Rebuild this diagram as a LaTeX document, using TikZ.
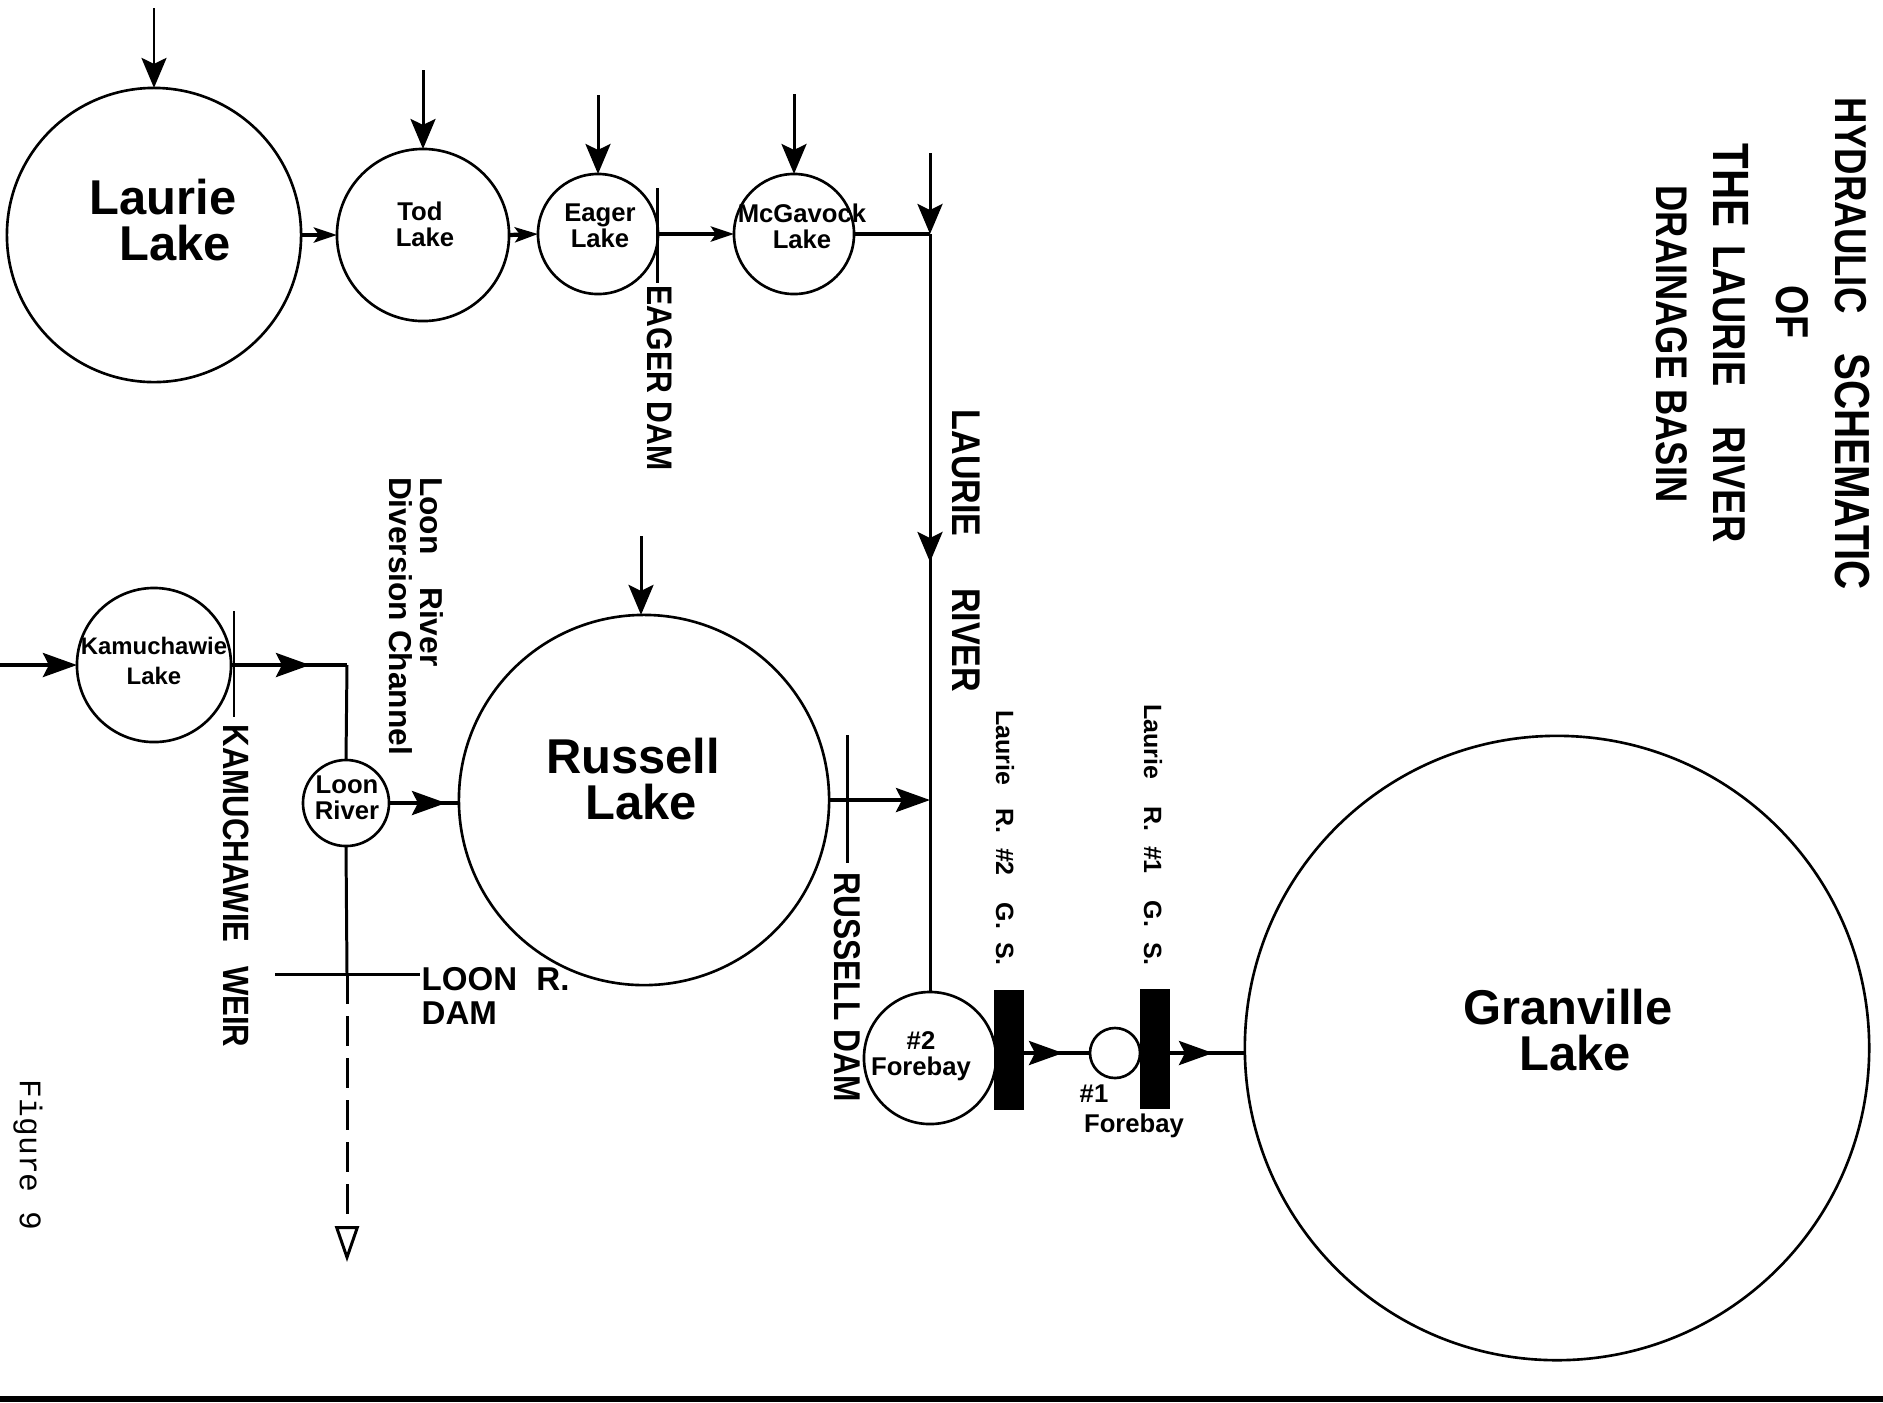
\documentclass[tikz,border=0pt]{standalone}
\usepackage{fontspec}
\setmainfont{Liberation Sans}
\newfontfamily\damfont[FakeStretch=.85]{Liberation Sans}
\newfontfamily\headfont[FakeStretch=.82]{Liberation Sans}
\newfontfamily\figfont{Liberation Mono}
\usetikzlibrary{arrows.meta}
\definecolor{lineColor}{RGB}{0,0,0}

\begin{document}
\begin{tikzpicture}[
  x=0.01cm, y=-0.01cm,
  lake/.style={circle, draw=lineColor, fill=white, line width=0.75pt, inner sep=0pt, outer sep=0pt},
  station/.style={fill=lineColor, inner sep=0pt, outer sep=0pt, minimum width=0.30cm, minimum height=1.19cm},
  biglabel/.style={font=\bfseries\fontsize{13.9}{13.2}\selectfont, align=center, inner sep=0pt},
  smalllabel/.style={font=\bfseries\fontsize{7.3}{7.4}\selectfont, align=center, inner sep=0pt},
  damlabel/.style={font=\damfont\bfseries\fontsize{10.6}{11}\selectfont, rotate=-90, inner sep=0pt},
  headlabel/.style={font=\headfont\bfseries\fontsize{13.1}{13}\selectfont, rotate=-90, inner sep=0pt},
  gslabel/.style={font=\bfseries\fontsize{7.1}{8}\selectfont, rotate=-90, inner sep=0pt},
  river/.style={draw=lineColor, line width=0.85pt},
  inflow/.style={river, -{Stealth[length=0.3cm, width=0.25cm, inset=0.06cm]}},
  shortflow/.style={river, line width=1.2pt, -{Stealth[length=0.23cm, width=0.15cm, inset=0.05cm]}},
  midflow/.style={river, line width=1.1pt, -{Stealth[length=0.34cm, width=0.24cm, inset=0.06cm]}},
  dam/.style={draw=lineColor, line width=0.85pt}
]
\useasboundingbox (0,0) rectangle (1883,1402);

% Lakes
\node[lake, minimum size=2.94cm] (laurie) at (154,235) {};
\node[lake, minimum size=1.72cm] (tod) at (423,235) {};
\node[lake, minimum size=1.20cm] (eager) at (598,234) {};
\node[lake, minimum size=1.20cm] (mcgavock) at (794,234) {};
\node[lake, minimum size=1.54cm] (kamuchawie) at (154,665) {};
\node[lake, minimum size=0.86cm] (loon) at (346,803) {};
\node[lake, minimum size=3.70cm] (russell) at (644,800) {};
\node[lake, minimum size=1.32cm] (forebaytwo) at (930,1058) {};
\node[lake, minimum size=0.50cm] (forebayone) at (1115,1053) {};
\node[lake, minimum size=6.24cm] (granville) at (1557,1048) {};

\node[biglabel] (laurietext) at (175,220) {Laurie\hspace*{0.24cm}\\Lake};
\node[biglabel] (russelltext) at (641,779) {Russell\hspace*{0.16cm}\\Lake};
\node[biglabel] (granvilletext) at (1575,1030) {Granville\hspace*{0.14cm}\\Lake};
\node[smalllabel] (todtext) at (425,224) {Tod\hspace*{0.1cm}\\Lake};
\node[smalllabel] (eagertext) at (600,226) {Eager\\Lake};
\node[smalllabel] (mcgavocktext) at (802,226) {McGavock\\Lake};
\node[smalllabel, font=\bfseries\fontsize{6.8}{8.4}\selectfont] (kamuchawietext) at (154,661) {Kamuchawie\\Lake};
\node[smalllabel] (loontext) at (347,798) {Loon\\River};
\node[smalllabel] (forebaytwotext) at (921,1056) {\#2\\Forebay};
\node[smalllabel] (onetext) at (1094,1094) {\#1};
\node[smalllabel] (forebayonetext) at (1134,1126) {Forebay};

% Generating stations
\node[station] (gstwo) at (1009,1050) {};
\node[station] (gsone) at (1155,1049) {};

% Inflows
\coordinate (laurietop) at (154,8);
\coordinate (todtop) at (423,70);
\coordinate (eagertop) at (598,95);
\coordinate (mcgavocktop) at (794,94);
\coordinate (russelltop) at (641,536);
\coordinate (kamleft) at (0,665);
\draw[inflow] (laurietop) -- (laurie.north);
\draw[inflow] (todtop) -- (tod.north);
\draw[inflow] (eagertop) -- (eager.north);
\draw[inflow] (mcgavocktop) -- (mcgavock.north);
\draw[inflow] (russelltop) -- (russelltop |- russell.north);
\draw[midflow] (kamleft) -- (kamuchawie.west);

% Chain of upper lakes
\draw[shortflow] (laurie.east) -- (tod.west);
\draw[shortflow] (tod.east) -- (eager.west);
\draw[shortflow] (eager.east) -- (mcgavock.west);

% Laurie River
\coordinate (rivertop) at (930,153);
\coordinate (riverjoin) at (930,234);
\coordinate (rivermid) at (930,562);
\coordinate (riverrussell) at (930,800);
\draw[river, line width=1.1pt] (mcgavock.east) -- (riverjoin);
\draw[river] (riverjoin) -- (forebaytwo.north);
\draw[inflow] (rivertop) -- (riverjoin);
\draw[inflow] (riverjoin) -- (rivermid);
\draw[midflow] (russell.east) -- (riverrussell);

% Loon River diversion
\coordinate (kamcorner) at (347,665);
\coordinate (kamhead) at (310,665);
\coordinate (loonhead) at (446,803);
\coordinate (loonjoin) at (347,974);
\coordinate (loonend) at (347,1262);
\draw[river, line width=1.1pt] (kamuchawie.east) -- (kamcorner);
\draw[midflow] (kamuchawie.east) -- (kamhead);
\draw[river] (kamcorner) -- (loon.north);
\draw[river, line width=1.1pt] (loon.east) -- (loon.east -| russell.west);
\draw[midflow] (loon.east) -- (loonhead);
\draw[river] (loon.south) -- (loonjoin);
\draw[river, dash pattern=on 0.3cm off 0.12cm, -{Triangle[open, length=0.36cm, width=0.24cm]}] (loonjoin) -- (loonend);

% Dams
\coordinate (eagerdamtop) at (657,188);
\coordinate (eagerdambot) at (657,283);
\coordinate (russelldamtop) at (847,735);
\coordinate (russelldambot) at (847,863);
\coordinate (kamdamtop) at (234,611);
\coordinate (kamdambot) at (234,717);
\coordinate (loondamleft) at (275,974);
\coordinate (loondamright) at (420,974);
\draw[dam] (eagerdamtop) -- (eagerdambot);
\draw[dam] (russelldamtop) -- (russelldambot);
\draw[dam] (kamdamtop) -- (kamdambot);
\draw[dam] (loondamleft) -- (loondamright);

% Forebays and stations
\coordinate (onehead) at (1063,1053);
\coordinate (granvillehead) at (1213,1053);
\draw[river, line width=1.1pt] (gstwo.east |- forebayone.west) -- (forebayone.west);
\draw[midflow] (gstwo.east |- forebayone.west) -- (onehead);
\draw[river, line width=1.1pt] (gsone.east |- forebayone.west) -- (granville.west |- granvillehead);
\draw[midflow] (gsone.east |- forebayone.west) -- (granvillehead);

% Labels
\node[damlabel, font=\damfont\bfseries\fontsize{10.1}{11}\selectfont] (eagerdam) at (660,378) {EAGER DAM};
\node[damlabel] (russelldam) at (847,987) {RUSSELL DAM};
\node[damlabel, font=\damfont\bfseries\fontsize{10.4}{11}\selectfont] (kamdam) at (236,886) {KAMUCHAWIE\hspace{0.15cm} WEIR};
\node[damlabel, font=\damfont\bfseries\fontsize{11.4}{11}\selectfont] (laurieriver) at (966,551) {LAURIE\hspace{0.42cm} RIVER};
\node[font=\bfseries\fontsize{9.4}{9.7}\selectfont, align=left, inner sep=0pt, anchor=west] (loondam) at (421,996) {LOON\hspace{0.1cm} R.\\DAM};
\node[gslabel, font=\bfseries\fontsize{9}{8.9}\selectfont, align=left] (diversion) at (416,616) {Loon\hspace{0.24cm} River\\Diversion Channel};
\node[gslabel] (gstwolabel) at (1005,838) {Laurie\hspace{0.16cm} R.\hspace{0.08cm} \#2\hspace{0.2cm} G.\hspace{0.06cm} S.};
\node[gslabel] (gsonelabel) at (1153,835) {Laurie\hspace{0.2cm} R.\hspace{0.08cm} \#1\hspace{0.2cm} G.\hspace{0.08cm} S.};

% Title
\node[headlabel] (titleone) at (1852,344) {{\fontsize{12.7}{13}\selectfont HYDRAULIC}\hspace{0.29cm} {\fontsize{14}{13}\selectfont SCHEMATIC}};
\node[headlabel] (titletwo) at (1792,312) {OF};
\node[headlabel] (titlethree) at (1731,343) {{\fontsize{14.5}{13}\selectfont THE}\hspace{0.08cm} LAURIE\hspace{0.3cm} RIVER};
\node[headlabel, font=\headfont\bfseries\fontsize{12.6}{13}\selectfont] (titlefour) at (1672,344) {DRAINAGE BASIN};

\node[font=\figfont\fontsize{8.9}{9}\selectfont, rotate=-90, inner sep=0pt] (figlabel) at (28,1155) {Figure 9};

% Page edge
\fill[lineColor] (0,1396) rectangle (1883,1402);

\end{tikzpicture}
\end{document}
